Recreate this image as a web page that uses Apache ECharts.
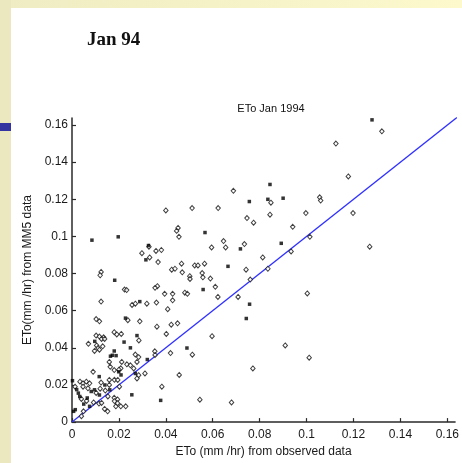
<!DOCTYPE html>
<html>
<head>
<meta charset="utf-8">
<script src="https://cdn.jsdelivr.net/npm/echarts@6/dist/echarts.min.js"></script>
<style>html,body{margin:0;padding:0;background:#fff}#c{width:462px;height:463px}</style>
</head>
<body>
<div id="c"></div>
<script>
// ---- data ----
const slideTitle = 'Jan 94';
const chartTitle = 'ETo Jan 1994';
const xName = 'ETo (mm /hr) from observed data';
const yName = 'ETo(mm /hr) from MM5 data';
const xTicks = [0, 0.02, 0.04, 0.06, 0.08, 0.1, 0.12, 0.14, 0.16];
const yTicks = [0, 0.02, 0.04, 0.06, 0.08, 0.1, 0.12, 0.14, 0.16];
const oneToOne = [[0, 0], [0.17, 0.17]];
const filledPoints = [
  [0.1279,0.1628],[0.0844,0.1280],[0.0835,0.1200],[0.0900,0.1206],[0.0756,0.1188],
  [0.0892,0.0963],[0.0567,0.1021],[0.0718,0.0933],[0.0665,0.0839],[0.0559,0.0714],
  [0.0757,0.0635],[0.0743,0.0558],[0.0490,0.0399],[0.0378,0.0117],[0.0085,0.0980],
  [0.0197,0.0998],[0.0326,0.0951],[0.0315,0.0874],[0.0182,0.0764],[0.0289,0.0649],
  [0.0228,0.0560],[0.0277,0.0466],[0.0222,0.0431],[0.0180,0.0383],[0.0249,0.0400],
  [0.0097,0.0435],[0.0164,0.0355],[0.0172,0.0360],[0.0188,0.0358],[0.0321,0.0337],
  [0.0199,0.0271],[0.0209,0.0254],[0.0255,0.0147],[0.0116,0.0245],[0.0002,0.0223],
  [0.0014,0.0067],[0.0007,0.0058],[0.0270,0.0262],[0.0020,0.0175],[0.0027,0.0156],
  [0.0033,0.0138],[0.0082,0.0165],[0.0096,0.0174],[0.0117,0.0146],[0.0161,0.0174],
  [0.0050,0.0097],[0.0075,0.0085],[0.0065,0.0130],[0.0140,0.0200]
];
const openPoints = [
  [0.1321,0.1566],[0.1125,0.1500],[0.1178,0.1323],[0.0848,0.1182],[0.1056,0.1211],
  [0.1060,0.1193],[0.0844,0.1117],[0.0997,0.1126],[0.1198,0.1126],[0.0941,0.1052],
  [0.1014,0.0998],[0.0934,0.0919],[0.0813,0.0887],[0.0835,0.0826],[0.1269,0.0945],
  [0.1003,0.0693],[0.0909,0.0413],[0.1011,0.0347],[0.0688,0.1246],[0.0400,0.1140],
  [0.0512,0.1153],[0.0623,0.1153],[0.0746,0.1099],[0.0774,0.1074],[0.0452,0.1046],
  [0.0446,0.1030],[0.0456,0.0998],[0.0646,0.0975],[0.0655,0.0941],[0.0595,0.0941],
  [0.0735,0.0959],[0.0328,0.0945],[0.0358,0.0922],[0.0381,0.0927],[0.0367,0.0862],
  [0.0467,0.0853],[0.0523,0.0844],[0.0537,0.0844],[0.0565,0.0853],[0.0425,0.0821],
  [0.0439,0.0826],[0.0470,0.0807],[0.0502,0.0786],[0.0555,0.0803],[0.0742,0.0821],
  [0.0503,0.0771],[0.0558,0.0780],[0.0590,0.0773],[0.0760,0.0768],[0.0364,0.0732],
  [0.0611,0.0729],[0.0395,0.0691],[0.0429,0.0691],[0.0429,0.0656],[0.0481,0.0697],
  [0.0492,0.0691],[0.0622,0.0674],[0.0708,0.0674],[0.0360,0.0644],[0.0408,0.0608],
  [0.0362,0.0514],[0.0423,0.0525],[0.0450,0.0532],[0.0402,0.0475],[0.0597,0.0463],
  [0.0420,0.0372],[0.0513,0.0363],[0.0353,0.0381],[0.0771,0.0289],[0.0457,0.0254],
  [0.0383,0.0191],[0.0545,0.0121],[0.0680,0.0106],
  [0.0298,0.0910],[0.0331,0.0887],[0.0124,0.0809],[0.0120,0.0791],[0.0224,0.0714],
  [0.0233,0.0711],[0.0354,0.0723],[0.0124,0.0649],[0.0256,0.0631],[0.0270,0.0638],
  [0.0319,0.0638],[0.0103,0.0555],[0.0117,0.0543],[0.0238,0.0549],[0.0289,0.0543],
  [0.0103,0.0466],[0.0117,0.0461],[0.0135,0.0457],[0.0180,0.0484],[0.0191,0.0472],
  [0.0210,0.0475],[0.0070,0.0422],[0.0105,0.0413],[0.0111,0.0399],[0.0126,0.0448],
  [0.0139,0.0448],[0.0285,0.0440],[0.0096,0.0383],[0.0117,0.0390],[0.0131,0.0408],
  [0.0159,0.0324],[0.0163,0.0298],[0.0212,0.0324],[0.0208,0.0290],[0.0270,0.0364],
  [0.0284,0.0350],[0.0354,0.0362],[0.0277,0.0324],[0.0263,0.0289],[0.0090,0.0271],
  [0.0180,0.0280],[0.0200,0.0282],[0.0124,0.0213],[0.0159,0.0227],[0.0159,0.0200],
  [0.0284,0.0253],[0.0277,0.0235],[0.0311,0.0262],[0.0234,0.0311],[0.0249,0.0306],
  [0.0034,0.0218],[0.0047,0.0209],[0.0061,0.0218],[0.0075,0.0209],[0.0047,0.0191],
  [0.0013,0.0191],[0.0068,0.0182],[0.0103,0.0157],[0.0120,0.0180],[0.0142,0.0170],
  [0.0194,0.0122],[0.0180,0.0131],[0.0153,0.0138],[0.0040,0.0125],[0.0062,0.0114],
  [0.0092,0.0106],[0.0115,0.0100],[0.0187,0.0085],[0.0194,0.0102],[0.0208,0.0085],
  [0.0229,0.0085],[0.0181,0.0113],[0.0139,0.0071],[0.0126,0.0103],[0.0049,0.0058],
  [0.0040,0.0032],[0.0152,0.0058],[0.0181,0.0228],[0.0195,0.0227],[0.0202,0.0191]
];

// ---- chart ----
const chart = echarts.init(document.getElementById('c'), null, {renderer: 'canvas'});
const axisFont = {fontFamily: 'Liberation Sans, Arial, sans-serif', fontSize: 12, color: '#1a1a1a'};
const option = {
  backgroundColor: '#ffffff',
  animation: false,
  title: {
    text: chartTitle, left: 266, top: 98, textAlign: 'center',
    textStyle: {fontFamily: 'Liberation Sans, Arial, sans-serif', fontSize: 11, fontWeight: 'normal', color: '#111'}
  },
  grid: {left: 72, right: 0, top: 118, bottom: 37, containLabel: false},
  xAxis: {
    type: 'value', min: 0, max: 0.1633,
    name: xName, nameLocation: 'middle', nameGap: 21,
    nameTextStyle: Object.assign({}, axisFont),
    axisLine: {show: true, onZero: false, lineStyle: {color: '#2a2a2a', width: 1.5}},
    axisTick: {show: true, inside: true, length: 4, customValues: xTicks, lineStyle: {color: '#2a2a2a', width: 1.2}},
    axisLabel: Object.assign({customValues: xTicks, margin: 7}, axisFont),
    splitLine: {show: false}
  },
  yAxis: {
    type: 'value', min: 0, max: 0.1638,
    name: yName, nameLocation: 'middle', nameGap: 31, nameRotate: 90,
    nameTextStyle: Object.assign({}, axisFont),
    axisLine: {show: true, onZero: false, lineStyle: {color: '#2a2a2a', width: 1.5}},
    axisTick: {show: true, inside: true, length: 4, customValues: yTicks, lineStyle: {color: '#2a2a2a', width: 1.2}},
    axisLabel: Object.assign({customValues: yTicks, margin: 4}, axisFont),
    splitLine: {show: false}
  },
  series: [
    {
      type: 'line', data: oneToOne, symbol: 'none', clip: true,
      lineStyle: {color: '#3030ff', width: 1.3}, z: 1
    },
    {
      type: 'scatter', data: openPoints, symbol: 'diamond', symbolSize: [4.5, 5],
      itemStyle: {color: '#ffffff', borderColor: '#111', borderWidth: 1}, z: 2
    },
    {
      type: 'scatter', data: filledPoints, symbol: 'rect', symbolSize: 3.5,
      itemStyle: {color: '#000'}, z: 3
    }
  ],
  graphic: [
    {type: 'rect', left: 0, top: 0, z: -10, shape: {width: 462, height: 8},
      style: {fill: new echarts.graphic.LinearGradient(0, 0, 1, 0, [{offset: 0, color: '#efecc3'}, {offset: 1, color: '#fdf9cd'}])}},
    {type: 'rect', left: 0, top: 0, z: -9, shape: {width: 11, height: 463}, style: {fill: '#ebe8bf'}},
    {type: 'rect', left: 0, top: 123, z: -8, shape: {width: 11, height: 8}, style: {fill: '#3434a0'}},
    {type: 'text', left: 87, top: 31, z: 5,
      style: {text: slideTitle, font: 'bold 19px "Liberation Serif", "Times New Roman", serif', fill: '#111'}}
  ]
};
chart.setOption(option);
</script>
</body>
</html>
